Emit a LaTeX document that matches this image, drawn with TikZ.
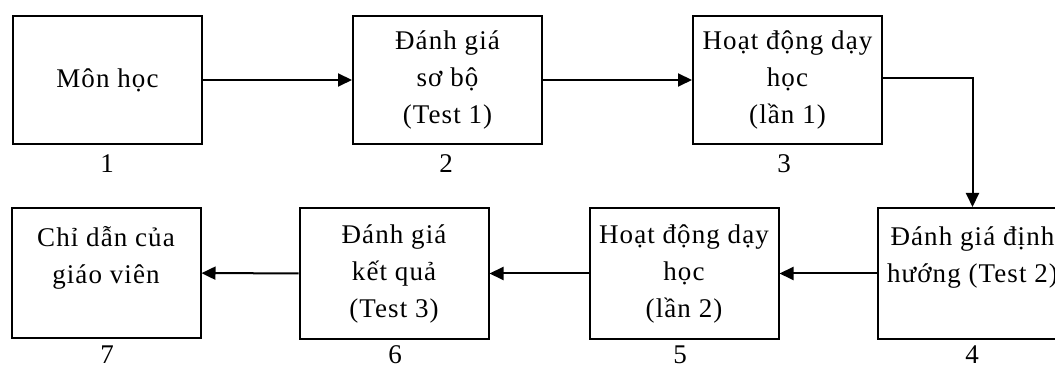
\documentclass[tikz,border=0pt]{standalone}
\usepackage{fontspec}
\setmainfont[LetterSpace=4]{Liberation Serif}
\usetikzlibrary{arrows.meta}
\begin{document}
\begin{tikzpicture}[x=0.5pt,y=-0.5pt,
  box/.style={draw, line width=1pt, minimum width=94.5pt, minimum height=64pt, inner sep=0pt, align=center, font=\fontsize{13.5}{18.5}\selectfont},
  num/.style={inner sep=0pt, font=\fontsize{13.5}{16}\selectfont},
  conn/.style={line width=1pt, -{Triangle[length=7pt,width=6.5pt]}}]
\useasboundingbox (0,0) rectangle (1055,367);
\clip (0,0) rectangle (1055,367);
\node[box] (b1) at (107.5,80) {Môn học};
\node[box] (b2) at (447.5,80) {Đánh giá\\sơ bộ\\(Test 1)};
\node[box] (b3) at (787.5,80) {Hoạt động dạy\\học\\(lần 1)};
\node[box, minimum height=65.5pt] (b4) at (972.5,273.5) {Đánh giá định\\hướng (Test 2)\\\mbox{}};
\node[box, minimum height=65.5pt] (b5) at (684,273.5) {Hoạt động dạy\\học\\(lần 2)};
\node[box, minimum height=65.5pt] (b6) at (394,273.5) {Đánh giá\\kết quả\\(Test 3)};
\node[box, minimum height=65pt] (b7) at (106,273) {Chỉ dẫn của\\giáo viên\\\mbox{}};
\node[num] (n1) at (107,164) {1};
\node[num] (n2) at (446,164) {2};
\node[num] (n3) at (784,164) {3};
\node[num] (n4) at (972,355) {4};
\node[num] (n5) at (680,355) {5};
\node[num] (n6) at (395,355) {6};
\node[num] (n7) at (107,355) {7};
\draw[conn] (b1) -- (b2);
\draw[conn] (b2) -- (b3);
\draw[conn] ([yshift=1pt]b3.east) -| (b4.north);
\draw[conn] (b4) -- (b5);
\draw[conn] (b5) -- (b6);
\draw[conn] (b6) -- (b7);
\end{tikzpicture}
\end{document}
